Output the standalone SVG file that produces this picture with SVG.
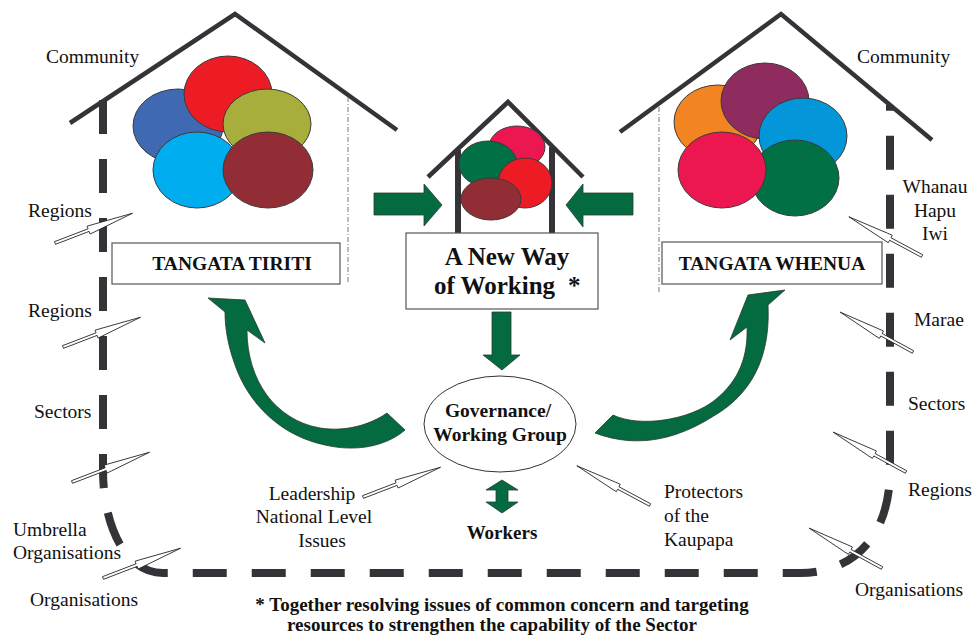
<svg xmlns="http://www.w3.org/2000/svg" xmlns:xlink="http://www.w3.org/1999/xlink" width="972" height="635" viewBox="0 0 972 635">
<style>
  .roof{fill:none;stroke:#333338;stroke-width:4.5;stroke-linecap:butt}
  .dotline{fill:none;stroke:#777;stroke-width:1;stroke-dasharray:5 2 1 2}
  .ell{stroke:#3a3a3a;stroke-width:1}
  .box{fill:#fff;stroke:#555;stroke-width:1.2}
  .lbl{font-family:"Liberation Serif","Times New Roman",serif;font-size:19.5px;fill:#111}
  .bold{font-family:"Liberation Serif","Times New Roman",serif;font-weight:bold;fill:#111}
  .green{fill:#046a40;stroke:#2b3a30;stroke-width:0.8}
  .dash{fill:none;stroke:#333338;stroke-width:8;stroke-dasharray:34 25}
  .needle{fill:#fff;stroke:#222;stroke-width:0.8}
</style>
<defs>
  <path id="needle" d="M0,-1.4 L36,-1.4 L36,-4.2 L41,-3.8 L83,0 L41,3.8 L36,4.2 L36,1.4 L0,1.4 Z"/>
</defs>
<rect width="972" height="635" fill="#fff"/>

<g id="connectors">
  <path class="dash" d="M103,100 V470 C103,525 125,573 163,573 H800 C850,573 890,540 890,470 V105"/>
  <g class="needle">
    <use xlink:href="#needle" href="#needle" transform="translate(55,243) rotate(-21)"/>
    <use xlink:href="#needle" href="#needle" transform="translate(63,347) rotate(-21)"/>
    <use xlink:href="#needle" href="#needle" transform="translate(72,482) rotate(-21)"/>
    <use xlink:href="#needle" href="#needle" transform="translate(103,578) rotate(-21)"/>
    <use xlink:href="#needle" href="#needle" transform="translate(363,497) rotate(-21)"/>
    <use xlink:href="#needle" href="#needle" transform="translate(650,505) rotate(-151.8)"/>
    <use xlink:href="#needle" href="#needle" transform="translate(922,256) rotate(-151.8)"/>
    <use xlink:href="#needle" href="#needle" transform="translate(913,352) rotate(-151.3)"/>
    <use xlink:href="#needle" href="#needle" transform="translate(906,472) rotate(-151.3)"/>
    <use xlink:href="#needle" href="#needle" transform="translate(882,568) rotate(-151.3)"/>
  </g>
  <path class="green" d="M374,193 H424 V184 L442,205 L424,226 V215 H374 Z"/>
  <path class="green" d="M633,193 H583 V184 L566,205 L583,227 V215 H633 Z"/>
  <path class="green" d="M492,312 H511 V355 H520 L502,370 L483,355 H492 Z"/>
  <path class="green" d="M502,480 L518,490 H508 V502 H518 L502,513 L486,502 H496 V490 H486 Z"/>
  <path class="green" d="M208,298 L245,300 L265,343 L247,330 C247,380 275,420 320,428 C345,432 370,425 387,413 L405,430 C385,447 355,452 325,445 C282,436 248,405 234,362 C228,345 225,328 225,312 Z"/>
  <path class="green" d="M785,290 L768,305 C770,345 760,390 712,417 C680,437 640,450 595,433 L613,415 C640,428 690,420 715,400 C740,380 748,355 747,327 L730,340 L748,295 Z"/>
</g>

<g id="left-house">
  <polyline class="roof" points="70,123 235,14 397,130"/>
  <line class="dotline" x1="348" y1="97" x2="348" y2="284"/>
  <ellipse class="ell" cx="178" cy="126" rx="45" ry="37" fill="#3f69b2"/>
  <ellipse class="ell" cx="228" cy="94" rx="44" ry="38" fill="#ed1c24"/>
  <ellipse class="ell" cx="267" cy="124" rx="44" ry="35" fill="#a7ae3b"/>
  <ellipse class="ell" cx="197" cy="170" rx="44" ry="38" fill="#00aeef"/>
  <ellipse class="ell" cx="268" cy="170" rx="45" ry="38" fill="#922d35"/>
  <text class="lbl" x="46" y="63">Community</text>
</g>
<g id="tangata-tiriti">
  <rect class="box" x="112" y="243" width="228" height="41"/>
  <text class="bold" x="232" y="270" font-size="19.5" text-anchor="middle">TANGATA TIRITI</text>
</g>

<g id="center-house">
  <polyline class="roof" points="428,177 508,102 583,177"/>
  <line x1="458" y1="150" x2="458" y2="233" stroke="#333338" stroke-width="6"/>
  <line x1="552" y1="147" x2="552" y2="233" stroke="#333338" stroke-width="6"/>
  <ellipse class="ell" cx="517" cy="147" rx="28" ry="21" fill="#ec1651"/>
  <ellipse class="ell" cx="488" cy="164" rx="29" ry="23" fill="#027045"/>
  <ellipse class="ell" cx="525" cy="183" rx="27" ry="25" fill="#ed1c24"/>
  <ellipse class="ell" cx="491" cy="199" rx="30" ry="21" fill="#922d35"/>
</g>
<g id="new-way">
  <rect class="box" x="406" y="233" width="192" height="76"/>
  <text class="bold" x="507" y="265" font-size="25" text-anchor="middle">A New Way</text>
  <text class="bold" x="434" y="294" font-size="25">of Working  <tspan x="568">*</tspan></text>
</g>

<g id="right-house">
  <polyline class="roof" points="620,132 781,14 932,140"/>
  <line class="dotline" x1="659" y1="107" x2="659" y2="292"/>
  <ellipse class="ell" cx="718" cy="122" rx="44" ry="37" fill="#f28521"/>
  <ellipse class="ell" cx="765" cy="101" rx="44" ry="38" fill="#8f2b5e"/>
  <ellipse class="ell" cx="803" cy="136" rx="44" ry="38" fill="#0396d8"/>
  <ellipse class="ell" cx="795" cy="178" rx="44" ry="38" fill="#027045"/>
  <ellipse class="ell" cx="722" cy="170" rx="44" ry="38" fill="#ec1651"/>
  <text class="lbl" x="857" y="63">Community</text>
</g>
<g id="tangata-whenua">
  <rect class="box" x="662" y="242" width="220" height="42"/>
  <text class="bold" x="772" y="270" font-size="19.5" text-anchor="middle">TANGATA WHENUA</text>
</g>

<g id="governance">
  <ellipse cx="500" cy="424" rx="76" ry="48" fill="#fff" stroke="#333" stroke-width="1"/>
  <text class="bold" x="498" y="417" font-size="19.5" text-anchor="middle">Governance/</text>
  <text class="bold" x="500" y="441" font-size="19.5" text-anchor="middle">Working Group</text>
</g>
<g id="workers">
  <text class="bold" x="502" y="539" font-size="19" text-anchor="middle">Workers</text>
</g>

<g id="left-labels">
  <text class="lbl" x="28" y="217">Regions</text>
  <text class="lbl" x="28" y="317">Regions</text>
  <text class="lbl" x="34" y="418">Sectors</text>
  <text class="lbl" x="13" y="536">Umbrella</text>
  <text class="lbl" x="13" y="559">Organisations</text>
  <text class="lbl" x="30" y="606">Organisations</text>
</g>
<g id="leadership">
  <text class="lbl" x="312" y="500" text-anchor="middle">Leadership</text>
  <text class="lbl" x="314" y="523" text-anchor="middle">National Level</text>
  <text class="lbl" x="322" y="547" text-anchor="middle">Issues</text>
</g>
<g id="protectors">
  <text class="lbl" x="664" y="498">Protectors</text>
  <text class="lbl" x="664" y="522">of the</text>
  <text class="lbl" x="664" y="546">Kaupapa</text>
</g>
<g id="right-labels">
  <text class="lbl" x="935" y="193" text-anchor="middle">Whanau</text>
  <text class="lbl" x="935" y="217" text-anchor="middle">Hapu</text>
  <text class="lbl" x="935" y="240" text-anchor="middle">Iwi</text>
  <text class="lbl" x="914" y="326">Marae</text>
  <text class="lbl" x="908" y="410">Sectors</text>
  <text class="lbl" x="908" y="496">Regions</text>
  <text class="lbl" x="855" y="596">Organisations</text>
</g>
<g id="footnote">
  <text class="bold" x="502" y="611" font-size="19" text-anchor="middle">* Together resolving issues of common concern and targeting</text>
  <text class="bold" x="492" y="631" font-size="19" text-anchor="middle">resources to strengthen the capability of the Sector</text>
</g>
</svg>
